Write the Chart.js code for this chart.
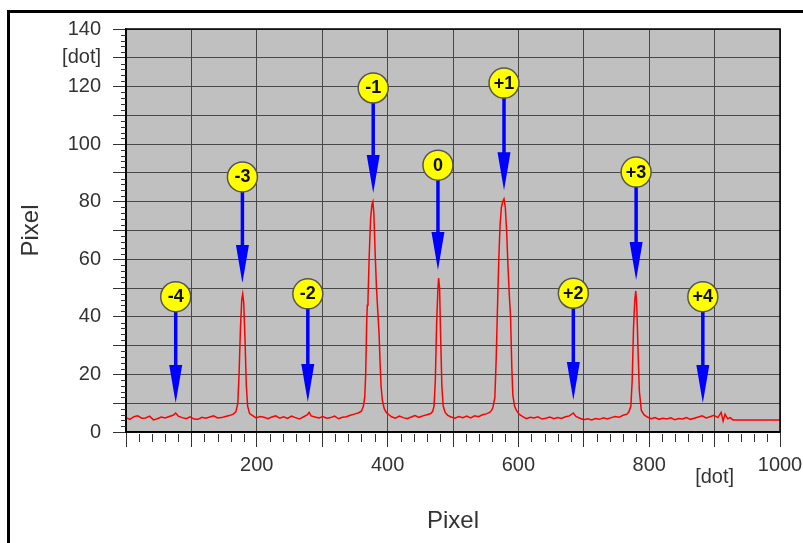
<!DOCTYPE html>
<html>
<head>
<meta charset="utf-8">
<title>Pixel profile</title>
<script src="https://cdn.jsdelivr.net/npm/chart.js@4.4.1/dist/chart.umd.min.js"></script>
<style>
  body { margin: 0; background: #fff; }
  #wrap { position: relative; width: 803px; height: 543px; overflow: hidden; }
  #frame { position: absolute; left: 7px; top: 10px; width: 900px; height: 600px;
           border-left: 3px solid #000; border-top: 3px solid #000; pointer-events: none; }
</style>
</head>
<body>
<div id="wrap">
  <canvas id="myChart" width="803" height="543"></canvas>
  <div id="frame"></div>
</div>
<script>
// Trace (dot position, pixel value)
const traceX = [
  0, 6, 12, 18, 24, 30, 36, 42, 48, 54, 60, 66, 72, 76, 80, 86, 92, 98, 104, 110, 116, 122, 128, 134, 140, 146, 152, 158, 164,
  168, 171, 173, 175, 177, 178.5, 180, 182, 184, 186, 189, 193,
  199, 205, 211, 217, 223, 229, 235, 241, 247, 253, 259, 265, 271, 277, 280, 283, 289, 295, 301, 307, 313, 319, 325, 331, 337, 343, 349, 355,
  360, 363, 365, 366.5, 368, 369, 370, 372, 374, 376, 377.5, 379, 381, 383, 385, 387, 388.5, 390, 392, 395, 398, 402,
  406, 412, 418, 424, 430, 436, 442, 448, 454, 460, 466,
  469, 471, 473, 475, 477, 478, 479.5, 481, 483, 485, 488, 492,
  497, 503, 509, 515, 521, 527, 533, 539, 545, 551, 556,
  559, 561, 564, 566, 568, 570, 572, 574, 576, 578, 580, 582, 584, 586, 588, 590, 591.5, 594, 597, 601, 606,
  612, 618, 624, 630, 636, 642, 648, 654, 660, 666, 672, 678, 684, 688, 694, 700, 706, 712, 718, 724, 730, 736, 742, 748, 754, 760, 766,
  769, 772, 774, 776, 778, 779.5, 781, 783, 785, 788, 792,
  797, 803, 809, 815, 821, 827, 833, 839, 845, 851, 857, 863, 869, 875, 881, 887, 893, 899, 905, 910, 913, 916, 920, 924, 928,
  934, 1000
];
const traceY = [
  5.0, 4.4, 5.3, 5.6, 4.8, 4.9, 5.5, 4.2, 4.6, 5.2, 4.9, 5.4, 5.8, 6.6, 5.5, 5.0, 4.6, 5.3, 4.5, 4.4, 5.1, 4.8, 5.2, 5.6, 4.9, 5.0, 5.4, 5.7, 6.2,
  7.0, 10, 21, 36, 46, 48, 45, 32, 16, 9, 6.4, 5.8,
  4.9, 5.4, 5.1, 4.6, 5.2, 5.6, 4.8, 5.3, 4.7, 5.5, 5.0, 4.5, 5.2, 5.9, 6.8, 5.6, 5.2, 4.9, 5.4, 4.8, 5.0, 5.5, 4.6, 5.1, 5.3, 5.8, 6.2, 6.6,
  7.2, 9, 12, 20, 38, 44, 46, 62, 74, 79, 80, 76, 62, 50, 42, 34, 24, 16, 11, 8, 6.8, 6.0,
  5.3, 4.8, 5.5, 5.0, 4.6, 5.2, 5.7, 5.1, 5.6, 6.0, 6.4,
  7.2, 9, 18, 38, 50, 53.5, 50, 34, 16, 9, 6.8, 5.8,
  5.2, 4.8, 5.4, 5.0, 5.5, 4.9, 5.6, 5.3, 6.0, 6.3, 6.8,
  7.5, 8.5, 12, 25, 43, 60, 72, 78, 80, 81, 78, 70, 58, 48, 40, 22, 13, 9, 7.5, 6.2, 5.4,
  4.6, 5.1, 4.9, 5.3, 4.5, 4.8, 5.2, 4.6, 5.0, 4.7, 5.3, 5.6, 6.6, 5.4, 4.8, 4.3, 4.6, 4.2, 4.7, 4.4, 4.9, 4.5, 5.0, 5.4, 5.1, 5.8, 6.2,
  7, 9, 18, 36, 46, 49, 44, 28, 14, 7.5, 6.0,
  5.2, 4.6, 5.0, 4.4, 4.8, 4.5, 4.9, 4.3, 4.7, 4.5, 5.0, 4.4, 4.8, 5.2, 5.6, 4.9, 5.3, 5.8, 5.0, 6.8, 3.8, 6.2, 4.6, 5.0, 4.2,
  4.2, 4.2
];

// Diffraction order markers
const orderNames = ['-4', '-3', '-2', '-1', '0', '+1', '+2', '+3', '+4'];
const orderX = [76, 178, 278, 378, 477, 578, 684, 780, 882];
const labelY = [47, 88.6, 48, 119.5, 92.7, 121.2, 48.2, 90.3, 47];
const tipY = [10.1, 51.8, 10.4, 83, 56.3, 84, 11.1, 52.8, 10.1];

// Axis tick labels
const xTickLabels = [200, 400, 600, 800, 1000];
const yTickLabels = [0, 20, 40, 60, 80, 100, 120, 140];
const unitLabel = '[dot]';

const font = "'Liberation Sans', Arial, sans-serif";
const textColor = '#333';

const plotDecor = {
  id: 'plotDecor',
  beforeDraw(chart) {
    const {ctx, chartArea: a} = chart;
    ctx.save();
    ctx.fillStyle = '#c0c0c0';
    ctx.fillRect(a.left, a.top, a.right - a.left, a.bottom - a.top);
    ctx.restore();
  },
  afterDatasetsDraw(chart) {
    const {ctx, chartArea: a, scales} = chart;
    const xs = scales.x, ys = scales.y;
    ctx.save();

    // frame
    ctx.strokeStyle = '#000';
    ctx.lineWidth = 1.5;
    ctx.strokeRect(a.left, a.top, a.right - a.left, a.bottom - a.top);

    // minor ticks
    ctx.strokeStyle = '#333';
    ctx.lineWidth = 1;
    ctx.beginPath();
    for (let v = 0; v <= 140; v += 2) {
      if (v % 10 === 0) continue;
      const py = Math.round(ys.getPixelForValue(v)) + 0.5;
      ctx.moveTo(a.left - 5, py);
      ctx.lineTo(a.left, py);
    }
    for (let v = 0; v <= 1000; v += 20) {
      if (v % 100 === 0) continue;
      const px = Math.round(xs.getPixelForValue(v)) + 0.5;
      ctx.moveTo(px, a.bottom + 2);
      ctx.lineTo(px, a.bottom + 10);
    }
    ctx.stroke();

    // arrows with order labels
    orderX.forEach(function(x, i) {
      const px = xs.getPixelForValue(x);
      const cy = ys.getPixelForValue(labelY[i]);
      const ty = ys.getPixelForValue(tipY[i]);
      ctx.strokeStyle = '#0000ff';
      ctx.fillStyle = '#0000ff';
      ctx.lineWidth = 3.5;
      ctx.beginPath();
      ctx.moveTo(px, cy);
      ctx.lineTo(px, ty - 34);
      ctx.stroke();
      ctx.beginPath();
      ctx.moveTo(px - 6.5, ty - 38);
      ctx.lineTo(px + 6.5, ty - 38);
      ctx.lineTo(px, ty);
      ctx.closePath();
      ctx.fill();

      ctx.beginPath();
      ctx.arc(px, cy, 15, 0, Math.PI * 2);
      ctx.fillStyle = '#ffff00';
      ctx.fill();
      ctx.strokeStyle = '#555';
      ctx.lineWidth = 1.5;
      ctx.stroke();
      ctx.fillStyle = '#111';
      ctx.font = 'bold 18px ' + font;
      ctx.textAlign = 'center';
      ctx.textBaseline = 'middle';
      ctx.fillText(orderNames[i], px, cy + 0.5);
    });
    ctx.restore();
  },
  afterDraw(chart) {
    const {ctx, scales} = chart;
    ctx.save();
    ctx.fillStyle = textColor;
    ctx.font = '20px ' + font;
    ctx.textAlign = 'center';
    ctx.textBaseline = 'middle';
    ctx.fillText(unitLabel, scales.x.getPixelForValue(900), 477);
    ctx.restore();
  }
};

const ctx = document.getElementById('myChart');

new Chart(ctx, {
  type: 'line',
  data: {
    datasets: [{
      data: traceX.map((x, i) => ({x: x, y: traceY[i]})),
      borderColor: '#ff0000',
      borderWidth: 1.5,
      pointRadius: 0,
      tension: 0,
      fill: false
    }]
  },
  options: {
    responsive: false,
    animation: false,
    events: [],
    layout: { padding: { left: 0, right: 23, top: 29, bottom: 0 } },
    plugins: { legend: { display: false }, tooltip: { enabled: false } },
    scales: {
      x: {
        type: 'linear',
        min: 0,
        max: 1000,
        afterFit: function(scale) {
          scale.height = 111;
          scale.paddingLeft = 0;
          scale.paddingRight = 0;
        },
        ticks: {
          stepSize: 100,
          autoSkip: false,
          maxRotation: 0,
          padding: 6,
          color: textColor,
          font: { family: font, size: 20 },
          callback: function(v) { return xTickLabels.includes(v) ? String(v) : ''; }
        },
        grid: { color: '#484848', lineWidth: 1, tickLength: 15, tickColor: '#333' },
        border: { color: '#000', width: 1.5 },
        title: {
          display: true,
          text: 'Pixel',
          color: textColor,
          font: { family: font, size: 24 },
          padding: { top: 0, bottom: 7 }
        }
      },
      y: {
        min: 0,
        max: 140,
        afterFit: function(scale) {
          scale.width = 126;
          scale.paddingTop = 0;
          scale.paddingBottom = 0;
        },
        ticks: {
          stepSize: 10,
          autoSkip: false,
          padding: 12,
          color: textColor,
          font: { family: font, size: 20 },
          callback: function(v) {
            if (yTickLabels.includes(v)) return String(v);
            if (v === 130) return unitLabel;
            return '';
          }
        },
        grid: { color: '#484848', lineWidth: 1, tickLength: 13, tickColor: '#333' },
        border: { color: '#000', width: 1.5 },
        title: {
          display: true,
          text: 'Pixel',
          color: textColor,
          font: { family: font, size: 24 },
          padding: { top: 17, bottom: 0 }
        }
      }
    }
  },
  plugins: [plotDecor]
});
</script>
</body>
</html>
